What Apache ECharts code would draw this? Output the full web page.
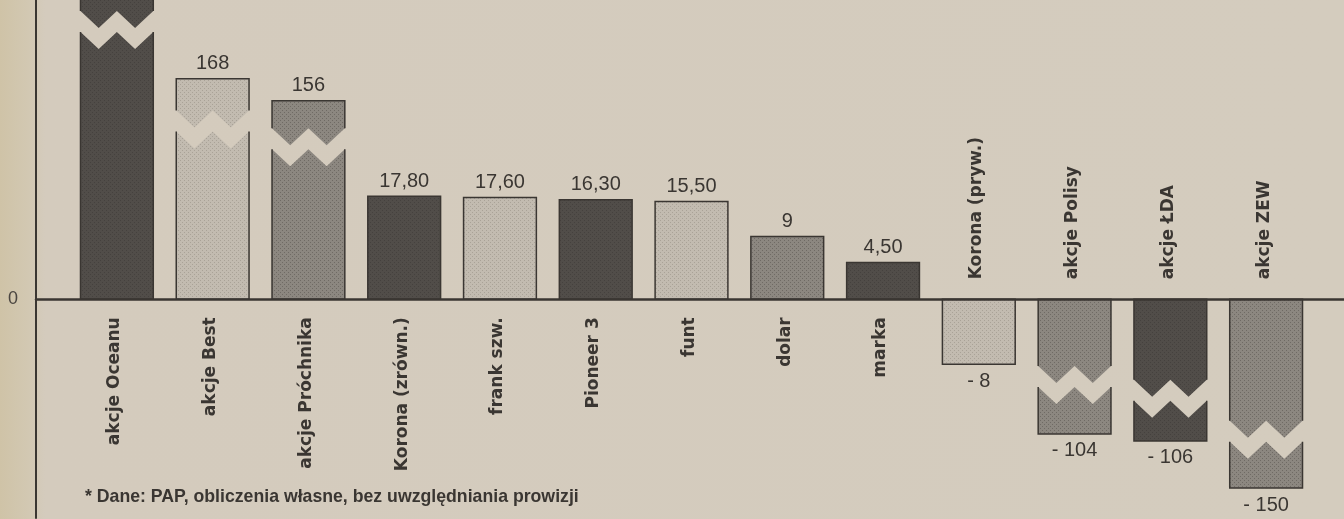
<!DOCTYPE html>
<html>
<head>
<meta charset="utf-8">
<script src="https://cdn.jsdelivr.net/npm/echarts@6/dist/echarts.min.js"></script>
<style>
    html, body { margin: 0; padding: 0; }
    #chart {
        width: 1344px;
        height: 519px;
        background: linear-gradient(90deg, #cfc3a7 0, #d2c8b2 28px, #d4cbbd 45px, #d4ccbe 100%);
    }
</style>
</head>
<body>
<div id="chart"></div>
<script>
// Categories, left to right
const categories = ['akcje Oceanu', 'akcje Best', 'akcje Próchnika', 'Korona (zrówn.)', 'frank szw.',
    'Pioneer 3', 'funt', 'dolar', 'marka', 'Korona (pryw.)', 'akcje Polisy', 'akcje ŁDA', 'akcje ZEW'];

// Printed values (Oceanu's label is cut off at the top of the picture)
const printedValues = [null, 168, 156, 17.80, 17.60, 16.30, 15.50, 9, 4.50, -8, -104, -106, -150];

// The drawing is not to scale (long bars are broken), so these are the bar
// lengths as drawn in the units of the 17,80 bar
const drawnLengths = [60, 38.3, 34.5, 17.9, 17.7, 17.3, 17.0, 10.9, 6.4, -11.3, -23.4, -24.6, -32.8];

// Where each broken bar is cut (same units), null = not broken
const breakAt = [50.1, 32.8, 29.7, null, null, null, null, null, null, null, -11.6, -14.0, -21.1];

// Screen tone of each bar
const tones = ['dark', 'light', 'mid', 'dark', 'light', 'dark', 'light', 'mid', 'dark', 'light', 'mid', 'dark', 'mid'];

const ink = '#3a3632';
const ZIG_H = 17;   // depth of the zigzag
const GAP = 21;     // height of the white cut

// little halftone screens for the bar fills
function screen(base, dot) {
    const c = document.createElement('canvas');
    c.width = 4; c.height = 4;
    const g = c.getContext('2d');
    g.fillStyle = base;
    g.fillRect(0, 0, 4, 4);
    g.fillStyle = dot;
    g.fillRect(0, 0, 1, 1);
    g.fillRect(2, 2, 1, 1);
    return { image: c, repeat: 'repeat' };
}
const toneFills = {
    dark: screen('#514d49', '#45413e'),
    mid: screen('#8c8780', '#6f6a64'),
    light: screen('#c2bbb0', '#a9a297')
};

function formatValue(v) {
    const txt = Number.isInteger(v) ? String(Math.abs(v)) : Math.abs(v).toFixed(2).replace('.', ',');
    return v < 0 ? '- ' + txt : txt;
}

function renderBar(params, api) {
    const i = api.value(0);
    const len = api.value(1);
    const zero = api.coord([i, 0]);
    const end = api.coord([i, len]);
    const w = api.size([1, 0])[0] * 0.76;
    const cx = zero[0];
    const L = cx - w / 2, R = cx + w / 2;
    const yA = Math.min(zero[1], end[1]);
    const yB = Math.max(zero[1], end[1]);
    const fill = toneFills[tones[i]];
    const children = [];

    if (breakAt[i] == null) {
        children.push({
            type: 'rect',
            shape: { x: L, y: yA, width: w, height: yB - yA },
            style: { fill: fill, stroke: ink, lineWidth: 1.5 }
        });
    } else {
        const yc = api.coord([i, breakAt[i]])[1];
        const zig = y => [[R, y], [L + w * 0.75, y + ZIG_H], [L + w / 2, y], [L + w * 0.25, y + ZIG_H], [L, y]];
        const upper = [[L, yA], [R, yA]].concat(zig(yc));
        const lower = zig(yc + GAP).reverse().concat([[R, yB], [L, yB]]);
        children.push(
            { type: 'polygon', shape: { points: upper }, style: { fill: fill } },
            { type: 'polygon', shape: { points: lower }, style: { fill: fill } },
            { type: 'polyline', shape: { points: [[L, yc], [L, yA], [R, yA], [R, yc]] },
              style: { stroke: ink, lineWidth: 1.5, fill: null } },
            { type: 'polyline', shape: { points: [[L, yc + GAP], [L, yB], [R, yB], [R, yc + GAP]] },
              style: { stroke: ink, lineWidth: 1.5, fill: null } }
        );
    }

    // value label
    const v = printedValues[i];
    if (v != null) {
        children.push({
            type: 'text',
            x: cx, y: v >= 0 ? yA - 5 : yB + 7,
            style: {
                text: formatValue(v), fill: ink,
                font: '20px "Liberation Sans", Arial, sans-serif',
                align: 'center', verticalAlign: v >= 0 ? 'bottom' : 'top'
            }
        });
    }

    // category name, rotated, on the other side of the zero line
    children.push({
        type: 'text',
        x: cx - 2, y: len >= 0 ? zero[1] + 18 : zero[1] - 20,
        rotation: Math.PI / 2,
        style: {
            text: categories[i], fill: ink,
            font: 'bold 17px "DejaVu Sans", sans-serif',
            align: len >= 0 ? 'right' : 'left', verticalAlign: 'middle'
        }
    });

    return { type: 'group', children: children };
}

const chart = echarts.init(document.getElementById('chart'));

chart.setOption({
    backgroundColor: 'transparent',
    animation: false,
    grid: [
        { left: 69, right: 30, top: -1, bottom: 1 },
        { left: 36, right: 0, top: -1, bottom: 1 }
    ],
    xAxis: [
        { type: 'category', gridIndex: 0, data: categories, show: false },
        {
            type: 'value', gridIndex: 1, min: 0, max: 1, z: 5,
            axisLine: { show: true, onZero: true, lineStyle: { color: ink, width: 2.5 } },
            axisTick: { show: false }, axisLabel: { show: false }, splitLine: { show: false }
        }
    ],
    yAxis: [
        { type: 'value', gridIndex: 0, min: -38, max: 52, show: false },
        {
            type: 'value', gridIndex: 1, min: -38, max: 52, z: 5,
            axisLine: { show: true, lineStyle: { color: ink, width: 2 } },
            axisTick: { show: false },
            splitLine: { show: false },
            axisLabel: {
                customValues: [0],
                margin: 18,
                color: '#4a4540',
                fontSize: 18,
                fontFamily: '"Liberation Sans", Arial, sans-serif'
            }
        }
    ],
    graphic: [{
        type: 'text',
        left: 85, top: 488,
        style: {
            text: '* Dane: PAP, obliczenia własne, bez uwzględniania prowizji',
            fill: ink,
            font: 'bold 17.7px "Liberation Sans", Arial, sans-serif'
        }
    }],
    series: [{
        type: 'custom',
        xAxisIndex: 0, yAxisIndex: 0,
        z: 2,
        renderItem: renderBar,
        encode: { x: 0, y: 1 },
        data: categories.map((c, i) => [i, drawnLengths[i]])
    }]
});
</script>
</body>
</html>
